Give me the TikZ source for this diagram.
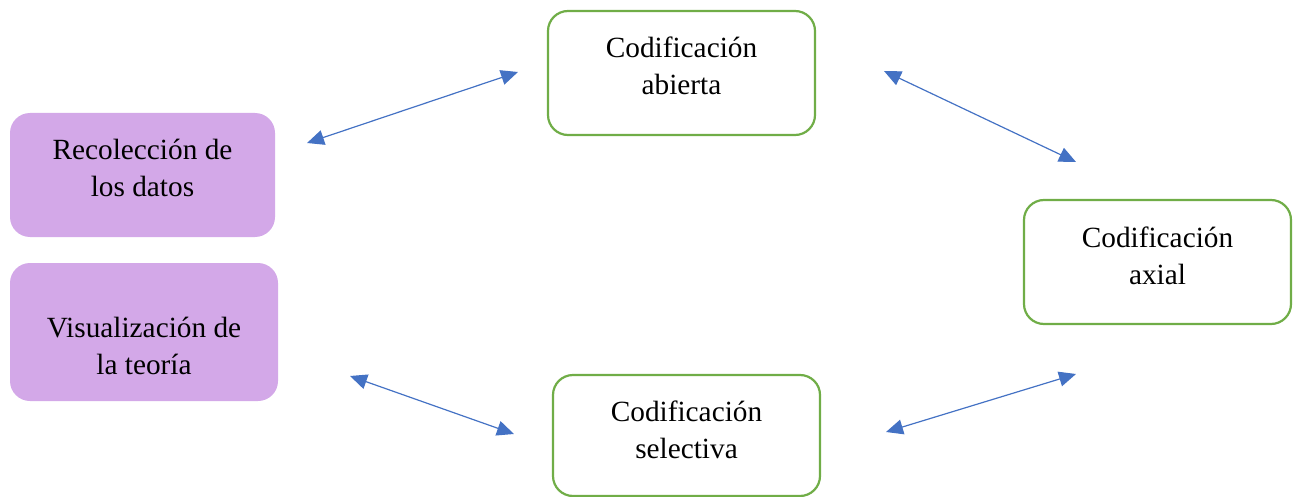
\documentclass[tikz,border=0pt]{standalone}
\usepackage{fontspec}
\setmainfont{Liberation Serif}
\usetikzlibrary{arrows.meta}
\definecolor{boxgreen}{HTML}{70AD47}
\definecolor{boxpurple}{HTML}{D3A8E8}
\definecolor{linkblue}{HTML}{4472C4}
\begin{document}
\begin{tikzpicture}[x=1pt,y=-1pt,
  greenbox/.style={draw=boxgreen, line width=2.2pt, rounded corners=20pt, fill=white, inner sep=0pt},
  purplebox/.style={fill=boxpurple, rounded corners=20pt, inner sep=0pt},
  lbl/.style={font=\fontsize{29.3}{37}\selectfont, align=center, inner sep=0pt},
  tip/.style={Triangle[length=17pt,width=15pt]},
  link/.style={draw=linkblue, line width=1.2pt, {Triangle[length=17pt,width=15pt]}-{Triangle[length=17pt,width=15pt]}}]
\useasboundingbox (0,0) rectangle (1295,497);
% boxes
\node[greenbox, minimum width=267pt, minimum height=124pt] (ab) at (681.5,73) {};
\node[purplebox, minimum width=265pt, minimum height=124pt] (rec) at (142.5,175) {};
\node[purplebox, minimum width=268pt, minimum height=138pt] (vis) at (144,332) {};
\node[greenbox, minimum width=267pt, minimum height=124pt] (ax) at (1157.5,262) {};
\node[greenbox, minimum width=267pt, minimum height=121pt] (sel) at (686.5,435.5) {};
% labels
\node[lbl] (tab) at ([yshift=7pt]ab.center) {Codificación\\abierta};
\node[lbl] (trec) at ([yshift=7pt]rec.center) {Recolección de\\los datos};
\node[lbl] (tvis) at ([yshift=-14pt]vis.center) {Visualización de\\la teoría};
\node[lbl] (tax) at ([yshift=6pt]ax.center) {Codificación\\axial};
\node[lbl] (tsel) at ([yshift=6pt]sel.center) {Codificación\\selectiva};
% connector ends
\coordinate (a1) at (307,143);
\coordinate (a2) at (518,72);
\coordinate (b1) at (884,71);
\coordinate (b2) at (1076,162);
\coordinate (c1) at (350,376);
\coordinate (c2) at (514,434);
\coordinate (d1) at (886,432);
\coordinate (d2) at (1076,374);
\draw[link] (a1) -- (a2);
\draw[link] (b1) -- (b2);
\draw[link] (c1) -- (c2);
\draw[link] (d1) -- (d2);
\end{tikzpicture}
\end{document}
